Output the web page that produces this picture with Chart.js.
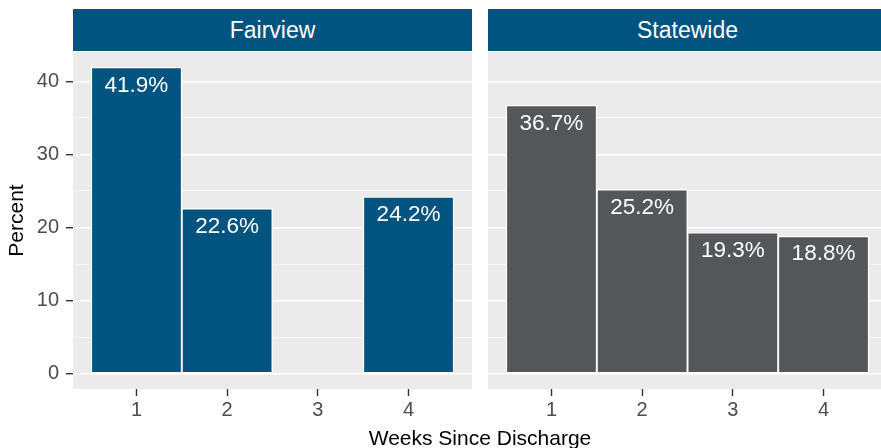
<!DOCTYPE html>
<html>
<head>
<meta charset="utf-8">
<script src="https://cdn.jsdelivr.net/npm/chart.js@4.4.0/dist/chart.umd.min.js"></script>
<style>
  html, body { margin: 0; padding: 0; background: #fff; }
  body { width: 881px; height: 448px; overflow: hidden; position: relative;
         font-family: "Liberation Sans", Arial, sans-serif; }
  .strip { position: absolute; top: 9px; height: 42px; width: 399px; background: #00547F;
           color: #fff; font-size: 23px; line-height: 42px; text-align: center; }
  canvas { position: absolute; top: 40px; }
  #xTitle { position: absolute; left: 73px; width: 814px; top: 427px; font-size: 21px;
            line-height: 21px; text-align: center; color: #000; white-space: nowrap; }
</style>
</head>
<body>
<div class="strip" id="strip0" style="left:73px"></div>
<div class="strip" id="strip1" style="left:488px"></div>
<canvas id="fairviewChart" width="472" height="390" style="left:0px"></canvas>
<canvas id="statewideChart" width="399" height="390" style="left:488px"></canvas>
<div id="xTitle"></div>

<script>
// chart data
const panelNames = ['Fairview', 'Statewide'];
const weeks = [1, 2, 3, 4];
const fairviewWeeks = [1, 2, 4];
const fairviewPct = [41.9, 22.6, 24.2];
const statewideWeeks = [1, 2, 3, 4];
const statewidePct = [36.7, 25.2, 19.3, 18.8];
const yTickValues = [0, 10, 20, 30, 40];
const xTitle = 'Weeks Since Discharge';
const yTitle = 'Percent';

const BLUE = '#00547F';
const GREY = '#55565A';
const FONT = '"Liberation Sans", Arial, sans-serif';

// ggplot-style 5% expansion of the value range
const allPct = fairviewPct.concat(statewidePct);
const yPad = 0.05 * Math.max(...allPct);
const yMin = -yPad;
const yMax = Math.max(...allPct) + yPad;
const xLo = weeks[0] - 0.5, xHi = weeks[weeks.length - 1] + 0.5;
const xMin = xLo - 0.05 * (xHi - xLo);
const xMax = xHi + 0.05 * (xHi - xLo);

// major + minor grid positions
const gridValues = [];
yTickValues.forEach((v, i) => {
    gridValues.push(v);
    if (i < yTickValues.length - 1) gridValues.push((v + yTickValues[i + 1]) / 2);
});

document.getElementById('strip0').textContent = panelNames[0];
document.getElementById('strip1').textContent = panelNames[1];
document.getElementById('xTitle').textContent = xTitle;

// grey panel background
const panelBg = {
    id: 'panelBg',
    beforeDraw(chart) {
        const { ctx, chartArea: a } = chart;
        ctx.save();
        ctx.fillStyle = '#EBEBEB';
        ctx.fillRect(a.left, a.top, a.right - a.left, a.bottom - a.top);
        ctx.restore();
    }
};

// percent labels inside top of bars
const barLabels = {
    id: 'barLabels',
    afterDatasetsDraw(chart) {
        const { ctx } = chart;
        const meta = chart.getDatasetMeta(0);
        const vals = chart.data.datasets[0].data;
        ctx.save();
        ctx.fillStyle = '#fff';
        ctx.font = '22.5px ' + FONT;
        ctx.textAlign = 'center';
        ctx.textBaseline = 'middle';
        meta.data.forEach((bar, i) => {
            ctx.fillText(vals[i].y.toFixed(1) + '%', bar.x, bar.y + 18);
        });
        ctx.restore();
    }
};

function makePanel(canvasId, xs, ys, color, showY) {
    const ctx = document.getElementById(canvasId).getContext('2d');
    return new Chart(ctx, {
        type: 'bar',
        data: {
            datasets: [{
                data: xs.map((x, i) => ({ x: x, y: ys[i] })),
                backgroundColor: color,
                borderColor: '#fff',
                borderWidth: 1.3,
                borderSkipped: false,
                barPercentage: 1,
                categoryPercentage: 1
            }]
        },
        options: {
            responsive: false,
            animation: false,
            events: [],
            layout: { padding: { top: 12, left: 0, right: 0, bottom: 0 } },
            plugins: { legend: { display: false }, tooltip: { enabled: false } },
            scales: {
                x: {
                    type: 'linear',
                    min: xMin,
                    max: xMax,
                    offset: false,
                    afterBuildTicks: s => { s.ticks = weeks.map(v => ({ value: v })); },
                    afterFit: s => { s.height = 41; s.paddingLeft = 0; s.paddingRight = 0; },
                    border: { display: false },
                    grid: {
                        offset: false,
                        drawOnChartArea: false,
                        tickLength: 7,
                        tickColor: '#333333',
                        tickWidth: 1.4
                    },
                    ticks: {
                        color: '#4D4D4D',
                        font: { family: FONT, size: 20 },
                        padding: 2,
                        maxRotation: 0,
                        callback: v => String(v)
                    }
                },
                y: {
                    min: yMin,
                    max: yMax,
                    afterBuildTicks: s => { s.ticks = gridValues.map(v => ({ value: v })); },
                    afterFit: s => {
                        s.width = showY ? 73 : 0;
                        s.paddingTop = 0;
                        s.paddingBottom = 0;
                    },
                    border: { display: false },
                    grid: {
                        color: '#fff',
                        lineWidth: c => yTickValues.includes(c.tick.value) ? 1.4 : 0.7,
                        drawTicks: showY,
                        tickLength: 7,
                        tickWidth: 1.4,
                        tickColor: c => yTickValues.includes(c.tick.value) ? '#333333' : 'rgba(0,0,0,0)'
                    },
                    ticks: {
                        display: showY,
                        color: '#4D4D4D',
                        font: { family: FONT, size: 20 },
                        padding: 7,
                        callback: v => yTickValues.includes(v) ? String(v) : ''
                    },
                    title: {
                        display: showY,
                        text: yTitle,
                        color: '#000',
                        font: { family: FONT, size: 21 },
                        padding: { top: 5, bottom: 0 }
                    }
                }
            }
        },
        plugins: [panelBg, barLabels]
    });
}

makePanel('fairviewChart', fairviewWeeks, fairviewPct, BLUE, true);
makePanel('statewideChart', statewideWeeks, statewidePct, GREY, false);
</script>
</body>
</html>
